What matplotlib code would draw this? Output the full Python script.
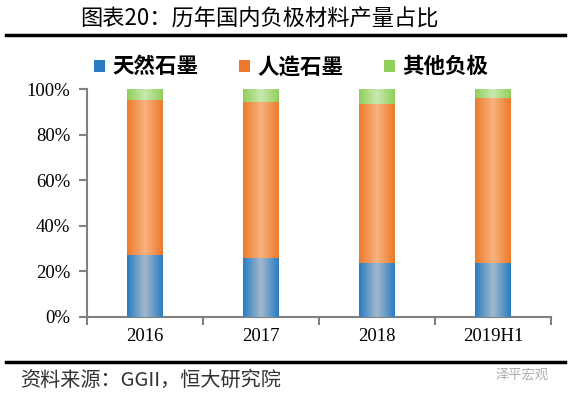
import numpy as np
import matplotlib.pyplot as plt
from matplotlib.colors import LinearSegmentedColormap

plt.rcParams['font.family'] = ['Noto Sans CJK SC', 'DejaVu Sans']

# 数据
years = ['2016', '2017', '2018', '2019H1']
natural = [27.2, 26.0, 23.8, 23.8]
artificial = [68.0, 68.3, 69.6, 72.3]
other = [4.8, 5.7, 6.6, 3.9]
names = ['天然石墨', '人造石墨', '其他负极']

# 渐变颜色 (边缘, 中间)
grad = [('#2a7cc2', '#a2b8cc'), ('#ec7a2a', '#f9b27e'), ('#90cf5a', '#c8e8ae')]

fig = plt.figure(figsize=(5.71, 3.98), dpi=100)
ax = fig.add_axes([0.152, 0.204, 0.813, 0.572])

x = np.arange(len(years))
w = 0.31
bottom = np.zeros(len(years))
g = np.concatenate([np.linspace(0, 1, 50), np.linspace(1, 0, 50)]).reshape(1, -1)
for vals, (c1, c2), name in zip([natural, artificial, other], grad, names):
    bars = ax.bar(x, vals, w, bottom=bottom, color=c1, label=name, zorder=2)
    cmap = LinearSegmentedColormap.from_list('g', [c1, c2])
    for b in bars:
        im = ax.imshow(g, cmap=cmap, aspect='auto', zorder=3,
                       extent=[b.get_x(), b.get_x() + b.get_width(),
                               b.get_y(), b.get_y() + b.get_height()])
        im.set_clip_path(b)
    bottom += np.array(vals)

ax.set_xlim(-0.5, 3.5)
ax.set_ylim(0, 100)
ax.set_yticks(range(0, 101, 20))
ax.set_yticklabels([f'{v}%' for v in range(0, 101, 20)], family='Liberation Serif', fontsize=13.5)
ax.set_xticks(x)
ax.set_xticklabels(years, family='Liberation Serif', fontsize=13.5)
ax.set_xticks(np.arange(-0.5, 4, 1), minor=True)
ax.tick_params(axis='x', which='major', length=0, pad=8)
ax.tick_params(axis='x', which='minor', length=6, width=1.5, color='#808080')
ax.tick_params(axis='y', length=6, width=1.5, color='#808080', pad=6)
for s in ['top', 'right']:
    ax.spines[s].set_visible(False)
for s in ['left', 'bottom']:
    ax.spines[s].set_color('#808080')
    ax.spines[s].set_linewidth(1.5)

fig.legend(loc='center', bbox_to_anchor=(0.51, 0.832), ncol=3, frameon=False,
           prop={'size': 15.5, 'weight': 'bold'}, handlelength=0.5, handleheight=0.5,
           handletextpad=0.35, columnspacing=1.9)

fig.text(0.455, 0.952, '图表20：历年国内负极材料产量占比', ha='center', va='center', fontsize=16)
fig.add_artist(plt.Line2D([0.01, 0.99], [0.912, 0.912], color='black', lw=2.5))
fig.add_artist(plt.Line2D([0.01, 0.99], [0.091, 0.091], color='black', lw=2.5))
fig.text(0.035, 0.045, '资料来源：GGII，恒大研究院', ha='left', va='center',
         fontsize=14.5, style='italic', color='#333333')
fig.text(0.96, 0.058, '泽平宏观', ha='right', va='center', fontsize=9.5, color='#aaaaaa')

plt.savefig('out.png')
